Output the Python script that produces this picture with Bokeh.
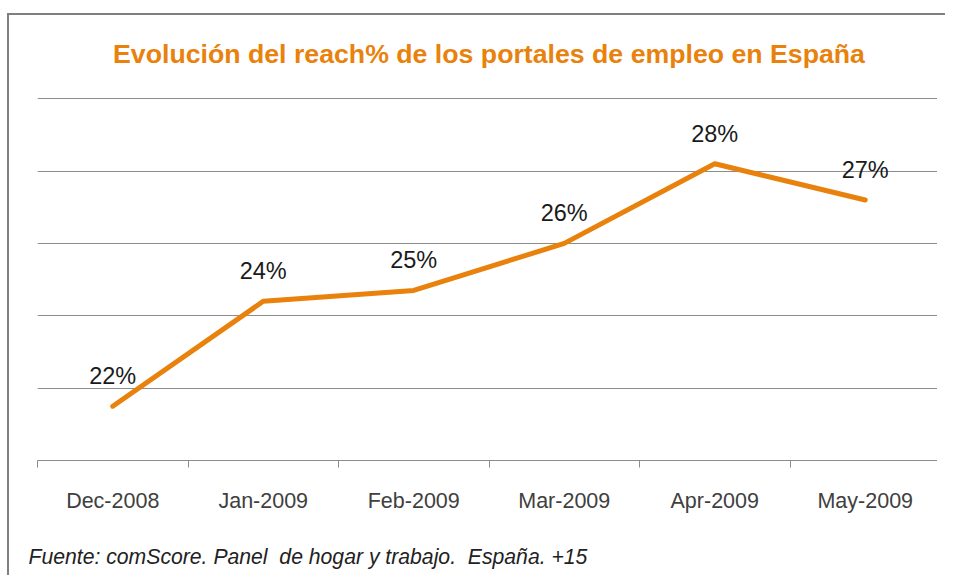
from bokeh.plotting import figure
from bokeh.models import (Range1d, LinearAxis, FixedTicker, Grid, Title, ColumnDataSource)
from bokeh.core.properties import value
from bokeh.embed import file_html
from bokeh.resources import INLINE

# ---- data ----
months = ["Dec-2008", "Jan-2009", "Feb-2009", "Mar-2009", "Apr-2009", "May-2009"]
reach = [21.5, 24.4, 24.7, 26.0, 28.2, 27.2]
reach_labels = ["22%", "24%", "25%", "26%", "28%", "27%"]
grid_levels = [20, 22, 24, 26, 28, 30]

title_text = "Evolución del reach% de los portales de empleo en España"
source_text = "Fuente: comScore. Panel\u00a0 de hogar y trabajo.\u00a0 España. +15"

ORANGE = "#E8820C"
GRID = "#8c8c8c"
FONT = "Liberation Sans"

# category slots: centre of each month on a 0..N scale
centers = [i + 0.5 for i in range(len(months))]
edges = list(range(len(months) + 1))
src = ColumnDataSource(dict(x=centers, y=reach, label=reach_labels, month=months))

W, H = 938, 562
p = figure(width=W, height=H, output_backend="svg", toolbar_location=None,
           x_range=Range1d(0, len(months)), y_range=Range1d(20, 30.06),
           x_axis_location=None, y_axis_location=None,
           min_border_left=28, min_border_right=7,
           min_border_top=81, min_border_bottom=H - 445)
p.outline_line_color = None
p.background_fill_color = "white"
p.border_fill_color = "white"
p.grid.visible = False
p.title.visible = False
p.styles = {"border-top": "2px solid #7f7f7f", "border-left": "2px solid #7f7f7f",
            "margin-top": "13px", "margin-left": "7px", "padding-right": "8px"}


def spacer_axis(size):
    """invisible axis used only to reserve vertical space in a side panel"""
    return LinearAxis(ticker=FixedTicker(ticks=[0]), major_tick_out=size, major_tick_in=0,
                      minor_tick_out=0, minor_tick_in=0, axis_line_color=None,
                      major_tick_line_color=None, minor_tick_line_color=None,
                      major_label_text_font_size="0px", major_label_text_color=None,
                      major_label_standoff=0)


# title (spacer between frame and title first, then the title outside it)
p.add_layout(spacer_axis(26), "above")
p.add_layout(Title(text=title_text, align="center", standoff=4,
                   text_font=FONT, text_font_size="26.7px", text_font_style="bold",
                   text_color=ORANGE), "above")

# horizontal gridlines
p.add_layout(Grid(dimension=1, ticker=FixedTicker(ticks=grid_levels),
                  grid_line_color=GRID, grid_line_width=1))

# axis with boundary ticks (no labels)
edge_axis = LinearAxis(ticker=FixedTicker(ticks=edges),
                       major_tick_in=0, major_tick_out=7, minor_tick_out=0, minor_tick_in=0,
                       axis_line_color=GRID, major_tick_line_color=GRID,
                       major_label_text_font_size="0px", major_label_text_color=None,
                       major_label_standoff=0)
p.add_layout(edge_axis, "below")

# axis carrying the month labels at slot centres
cat_axis = LinearAxis(ticker=FixedTicker(ticks=centers),
                      major_label_overrides={c: m for c, m in zip(centers, months)},
                      axis_line_color=None, major_tick_line_color=None,
                      minor_tick_line_color=None,
                      major_label_text_font=FONT, major_label_text_font_size="21.5px",
                      major_label_text_color="#404040", major_label_standoff=15)
p.add_layout(cat_axis, "below")
p.add_layout(spacer_axis(25), "below")

# footnote
p.add_layout(Title(text=source_text, align="left", offset=-9, standoff=4,
                   text_font=FONT, text_font_size="21.2px", text_font_style="italic",
                   text_color="#222222"), "below")

# line
p.line(x="x", y="y", source=src, line_color=ORANGE, line_width=5,
       line_cap="round", line_join="round")

# data labels
p.text(x="x", y="y", text="label", source=src, y_offset=-30,
       text_align="center", text_baseline="middle",
       text_font=value(FONT), text_font_size="23.5px", text_color="#1a1a1a")

open("out.html", "w").write(file_html(p, INLINE))
